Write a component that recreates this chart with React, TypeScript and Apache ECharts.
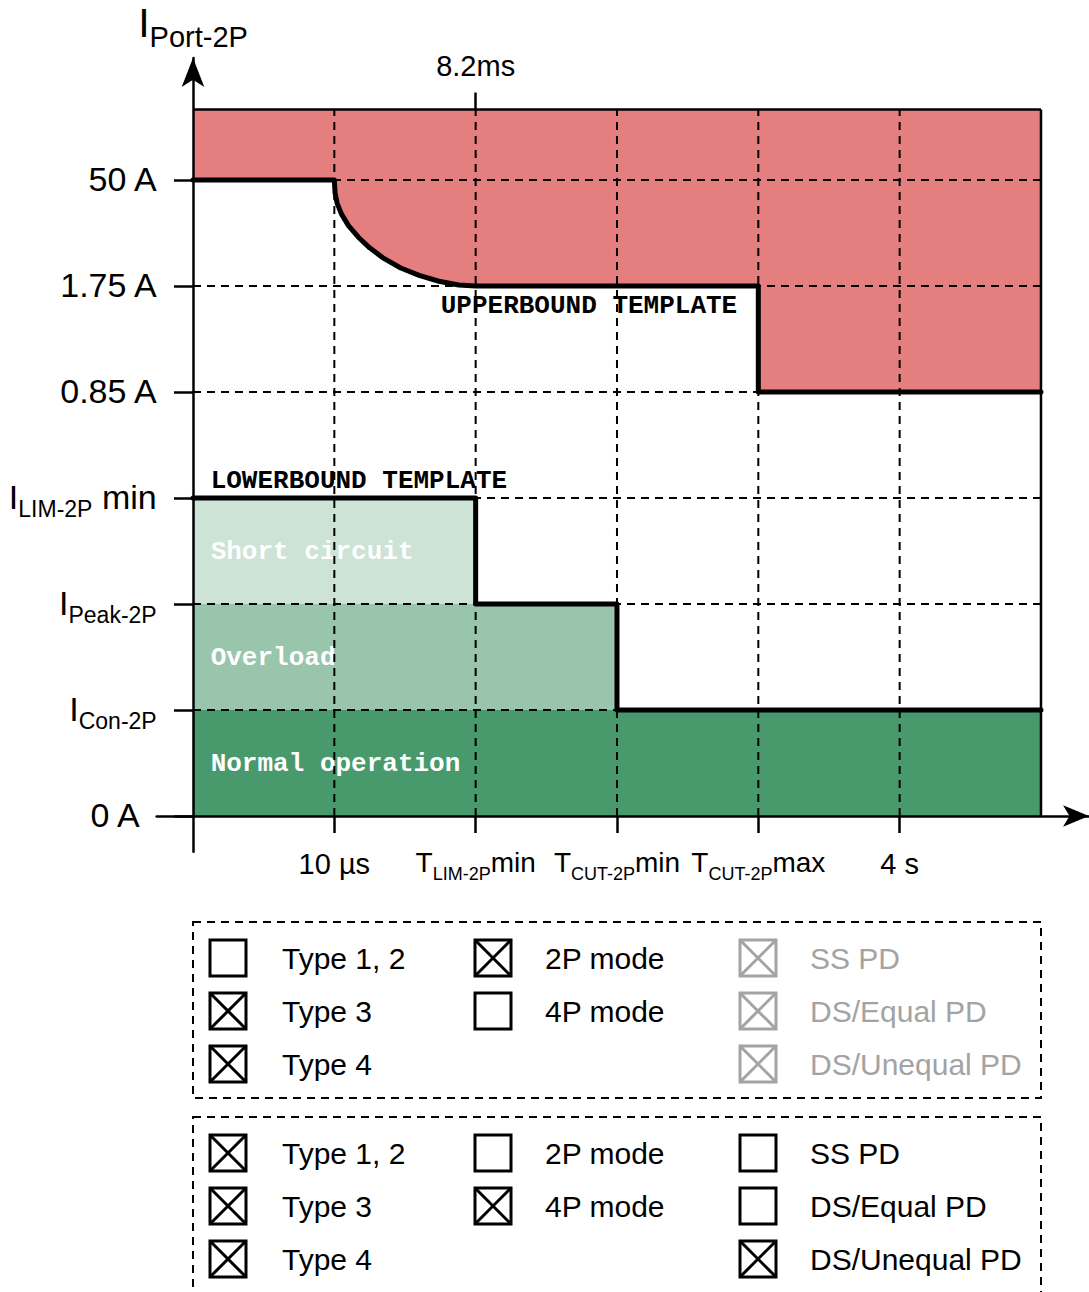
import React, { useEffect, useRef } from 'react';
import * as echarts from 'echarts';

// ---------- data (ordinal levels / time marks) ----------
const yTickValues = [0, 1, 2, 3, 4, 5, 6];
const yTickLabels = [
  '{z|0 A}',
  '{m|I}{s|Con-2P}',
  '{m|I}{s|Peak-2P}',
  '{m|I}{s|LIM-2P}{m| min}',
  '{m|0.85 A}',
  '{m|1.75 A}',
  '{m|50 A}',
];
const xTickValues = [1, 2, 3, 4, 5];
const xTickLabels = [
  '{m|10 µs}',
  '{n|T}{s|LIM-2P}{n|min}',
  '{n|T}{s|CUT-2P}{n|min}',
  '{n|T}{s|CUT-2P}{n|max}',
  '{m|4 s}',
];
const topTickValues = [2];
const topTickLabels = ['8.2ms'];
const yAxisTitle = '{m|I}{s|Port-2P}';

const FRAME_TOP = 6.665;
const FRAME_RIGHT = 6;

// upper-bound template
const upperBound = [
  [0, 6], [1, 6], [1.005, 5.88], [1.02, 5.78], [1.05, 5.68], [1.1, 5.57], [1.17, 5.46],
  [1.25, 5.36], [1.35, 5.26], [1.47, 5.17], [1.6, 5.1], [1.74, 5.045], [1.88, 5.01],
  [2, 5], [4, 5], [4, 4], [6, 4],
];
// lower-bound template
const lowerBound = [[0, 3], [2, 3], [2, 2], [3, 2], [3, 1], [6, 1]];
const overloadEdge = [[0, 2], [3, 2], [3, 1], [6, 1]];
const normalEdge = [[0, 1], [6, 1]];

const gridRowValues = [1, 2, 3, 4, 5, 6];
const gridColValues = [1, 2, 3, 4, 5];

const regionTexts = ['UPPERBOUND TEMPLATE', 'LOWERBOUND TEMPLATE', 'Short circuit', 'Overload', 'Normal operation'];
const regionTextX = [1.753, 0.125, 0.125, 0.125, 0.125];
const regionTextY = [4.813, 3.16, 2.49, 1.49, 0.49];
const regionTextDark = [true, true, false, false, false];

// legend panels
const panel1Labels = [['Type 1, 2', 'Type 3', 'Type 4'], ['2P mode', '4P mode'], ['SS PD', 'DS/Equal PD', 'DS/Unequal PD']];
const panel1Checked = [[false, true, true], [true, false], [true, true, true]];
const panel1Gray = [false, false, true];
const panel2Labels = [['Type 1, 2', 'Type 3', 'Type 4'], ['2P mode', '4P mode'], ['SS PD', 'DS/Equal PD', 'DS/Unequal PD']];
const panel2Checked = [[true, true, true], [false, true], [false, false, true]];
const panel2Gray = [false, false, false];

// ---------- layout ----------
const W = 1089;
const H = 1292;
const X0 = 193;
const XU = 141.33;
const Y0 = 816;
const YU = 106;
const X_MIN = -0.257;
const X_MAX = 6.34;
const Y_MIN = -0.337;
const Y_MAX = 7.151;

const RED = '#E57E7E';
const LIGHT = '#CCE3D6';
const MED = '#98C5AC';
const DARK = '#48996B';
const GRAY = '#A3A3A3';
const SANS = '"Liberation Sans", Arial, Helvetica, sans-serif';
const MONO = '"Liberation Mono", "Courier New", monospace';

function buildPanel(top: number, bottom: number, labels: string[][], checked: boolean[][], gray: boolean[]) {
  const els: any[] = [];
  els.push({
    type: 'rect',
    shape: { x: 193, y: top, width: 848, height: bottom - top },
    style: { fill: 'none', stroke: '#000', lineWidth: 2, lineDash: [8, 6] },
  });
  const boxX = [210, 475, 740];
  const textX = [282, 545, 810];
  labels.forEach((col, ci) => {
    const color = gray[ci] ? GRAY : '#000';
    col.forEach((lab, ri) => {
      const cy = top + 36 + ri * 53;
      const bx = boxX[ci];
      const by = cy - 18;
      els.push({
        type: 'rect',
        shape: { x: bx, y: by, width: 36, height: 36 },
        style: { fill: '#fff', stroke: color, lineWidth: 3 },
      });
      if (checked[ci][ri]) {
        els.push({ type: 'line', shape: { x1: bx, y1: by, x2: bx + 36, y2: by + 36 }, style: { stroke: color, lineWidth: 3 } });
        els.push({ type: 'line', shape: { x1: bx + 36, y1: by, x2: bx, y2: by + 36 }, style: { stroke: color, lineWidth: 3 } });
      }
      els.push({
        type: 'text',
        x: textX[ci],
        y: cy,
        style: { text: lab, fill: color, font: `30px ${SANS}`, align: 'left', verticalAlign: 'middle' },
      });
    });
  });
  return els;
}

export default function App() {
  const ref = useRef<HTMLDivElement>(null);
  useEffect(() => {
    if (!ref.current) return;
    const chart = echarts.init(ref.current, undefined, { renderer: 'svg' });
    const axisLineStyle = { color: '#000', width: 2.5 };
    const leftRich = {
      m: { fontSize: 34, lineHeight: 34, padding: [6, 0, 6, 0], verticalAlign: 'bottom', fontFamily: SANS, color: '#000' },
      z: { fontSize: 34, lineHeight: 34, padding: [6, 17, 6, 0], verticalAlign: 'bottom', fontFamily: SANS, color: '#000' },
      s: { fontSize: 23, lineHeight: 23, verticalAlign: 'bottom', fontFamily: SANS, color: '#000' },
    };
    const bottomRich = {
      m: { fontSize: 29, lineHeight: 29, padding: [5, 0, 5, 0], verticalAlign: 'bottom', fontFamily: SANS, color: '#000' },
      n: { fontSize: 28, lineHeight: 28, padding: [5, 0, 6, 0], verticalAlign: 'bottom', fontFamily: SANS, color: '#000' },
      s: { fontSize: 18, lineHeight: 18, verticalAlign: 'bottom', fontFamily: SANS, color: '#000' },
    };
    const titleRich = {
      m: { fontSize: 41, lineHeight: 41, padding: [0, 0, 8, 0], verticalAlign: 'bottom', fontFamily: SANS, color: '#000' },
      s: { fontSize: 29, lineHeight: 29, verticalAlign: 'bottom', fontFamily: SANS, color: '#000' },
    };

    const gridLines = [
      ...gridRowValues.map((v) => [0, v, FRAME_RIGHT, v]),
      ...gridColValues.map((v) => [v, 0, v, FRAME_TOP]),
    ];
    const frameLines = [
      [0, FRAME_TOP, FRAME_RIGHT, FRAME_TOP],
      [FRAME_RIGHT, 0, FRAME_RIGHT, FRAME_TOP],
    ];
    const lineRender = (dash: boolean, width: number) => (params: any, api: any) => {
      const a = api.coord([api.value(0), api.value(1)]);
      const b = api.coord([api.value(2), api.value(3)]);
      return {
        type: 'line',
        shape: { x1: a[0], y1: a[1], x2: b[0], y2: b[1] },
        style: { stroke: '#000', lineWidth: width, lineDash: dash ? [8, 6] : null },
      };
    };

    const gl = X0 + X_MIN * XU;
    const gr = X0 + X_MAX * XU;
    const gt = Y0 - Y_MAX * YU;
    const gb = Y0 - Y_MIN * YU;

    const option: any = {
      animation: false,
      grid: { left: gl, top: gt, width: gr - gl, height: gb - gt, containLabel: false, outerBoundsMode: 'none', show: false },
      xAxis: [
        {
          type: 'value', min: X_MIN, max: X_MAX, position: 'bottom', z: 10,
          axisLine: { show: true, onZero: true, symbol: ['none', 'arrow'], symbolSize: [16, 26], lineStyle: axisLineStyle },
          axisTick: { show: true, customValues: xTickValues, length: 17, lineStyle: axisLineStyle },
          axisLabel: {
            show: true, customValues: xTickValues, margin: 3,
            formatter: (v: number) => { const i = xTickValues.indexOf(Math.round(v)); return i >= 0 ? xTickLabels[i] : ''; },
            rich: bottomRich,
          },
          splitLine: { show: false },
        },
        {
          type: 'value', min: X_MIN, max: X_MAX, position: 'top',
          offset: -((Y_MAX - FRAME_TOP) * YU), z: 10,
          axisLine: { show: false, onZero: false },
          axisTick: { show: true, customValues: topTickValues, length: 17, lineStyle: axisLineStyle },
          axisLabel: {
            show: true, customValues: topTickValues, margin: 29,
            formatter: (v: number) => { const i = topTickValues.indexOf(Math.round(v)); return i >= 0 ? topTickLabels[i] : ''; },
            fontSize: 29, lineHeight: 29, fontFamily: SANS, color: '#000',
          },
          splitLine: { show: false },
        },
      ],
      yAxis: {
        type: 'value', min: Y_MIN, max: Y_MAX, z: 10,
        name: yAxisTitle, nameLocation: 'end', nameGap: 6,
        nameTextStyle: { rich: titleRich },
        axisLine: { show: true, onZero: true, symbol: ['none', 'arrow'], symbolSize: [17, 29], lineStyle: axisLineStyle },
        axisTick: { show: true, customValues: yTickValues, length: 19, lineStyle: axisLineStyle },
        axisLabel: {
          show: true, customValues: yTickValues, margin: 0, padding: [10, 0, 0, 0],
          formatter: (v: number) => yTickLabels[Math.round(v)] ?? '',
          rich: leftRich,
        },
        splitLine: { show: false },
      },
      series: [
        {
          type: 'line', data: upperBound, symbol: 'none', z: 2, silent: true,
          lineStyle: { width: 0, opacity: 0 },
          areaStyle: { color: RED, opacity: 1, origin: FRAME_TOP },
        },
        {
          type: 'line', data: lowerBound, symbol: 'none', z: 2, silent: true,
          lineStyle: { width: 0, opacity: 0 },
          areaStyle: { color: LIGHT, opacity: 1, origin: 0 },
        },
        {
          type: 'line', data: overloadEdge, symbol: 'none', z: 2, silent: true,
          lineStyle: { width: 0, opacity: 0 },
          areaStyle: { color: MED, opacity: 1, origin: 0 },
        },
        {
          type: 'line', data: normalEdge, symbol: 'none', z: 2, silent: true,
          lineStyle: { width: 0, opacity: 0 },
          areaStyle: { color: DARK, opacity: 1, origin: 0 },
        },
        {
          type: 'custom', z: 3, silent: true,
          data: regionTexts.map((t, i) => [regionTextX[i], regionTextY[i], i]),
          encode: { x: 0, y: 1 },
          renderItem: (params: any, api: any) => {
            const i = api.value(2);
            const p = api.coord([api.value(0), api.value(1)]);
            return {
              type: 'text', x: p[0], y: p[1],
              style: {
                text: regionTexts[i], fill: regionTextDark[i] ? '#000' : '#fff',
                font: `bold 26px ${MONO}`, align: 'left', verticalAlign: 'middle',
              },
            };
          },
        },
        {
          type: 'custom', z: 4, silent: true, data: gridLines,
          encode: { x: [0, 2], y: [1, 3] },
          renderItem: lineRender(true, 2),
        },
        {
          type: 'custom', z: 4, silent: true, data: frameLines,
          encode: { x: [0, 2], y: [1, 3] },
          renderItem: lineRender(false, 2.5),
        },
        {
          type: 'line', data: upperBound, symbol: 'none', z: 5, silent: true,
          lineStyle: { width: 5, color: '#000', cap: 'round', join: 'round' },
        },
        {
          type: 'line', data: lowerBound, symbol: 'none', z: 5, silent: true,
          lineStyle: { width: 5, color: '#000', cap: 'round', join: 'round' },
        },
      ],
      graphic: [
        ...buildPanel(922, 1098, panel1Labels, panel1Checked, panel1Gray),
        ...buildPanel(1117, 1320, panel2Labels, panel2Checked, panel2Gray),
      ],
    };
    chart.setOption(option);
    return () => chart.dispose();
  }, []);
  return <div ref={ref} style={{ position: 'absolute', left: 0, top: 0, width: W, height: H }} />;
}
